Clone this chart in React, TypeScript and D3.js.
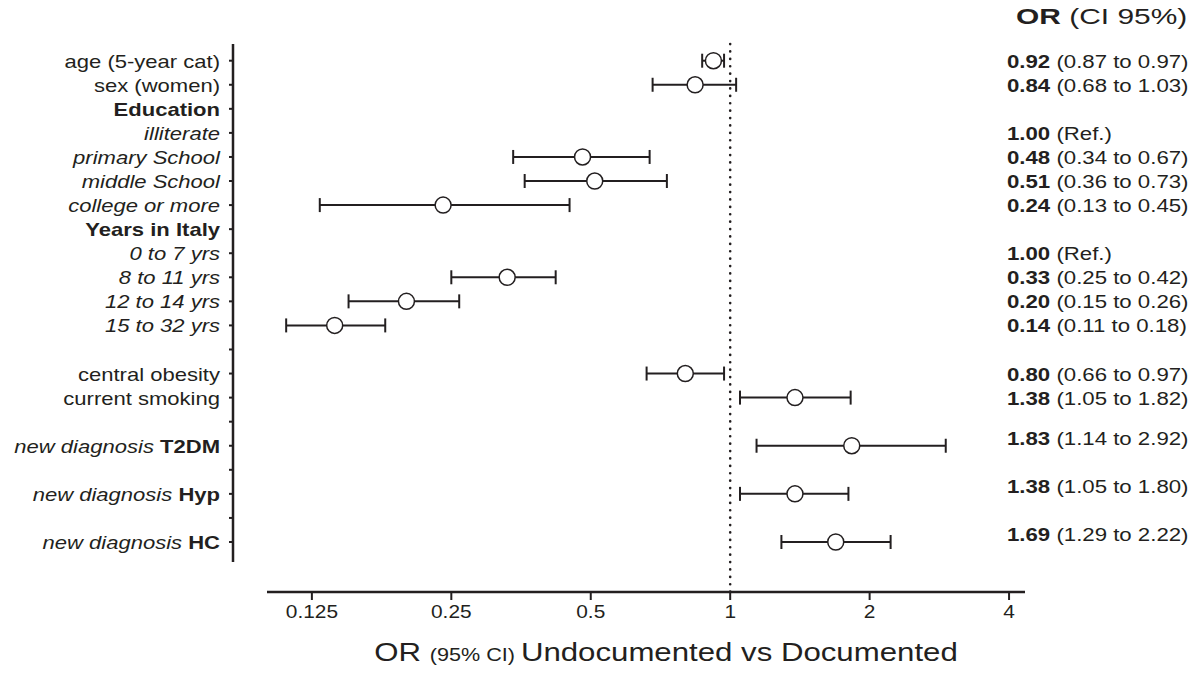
import React from "react";
import * as d3 from "d3";

// ---- data ----
const rowLabels: string[][] = [
  ["age (5-year cat)"], ["sex (women)"], ["Education"], ["illiterate"], ["primary School"],
  ["middle School"], ["college or more"], ["Years in Italy"], ["0 to 7 yrs"], ["8 to 11 yrs"],
  ["12 to 14 yrs"], ["15 to 32 yrs"], [""], ["central obesity"], ["current smoking"], [""],
  ["new diagnosis ", "T2DM"], [""], ["new diagnosis ", "Hyp"], [""], ["new diagnosis ", "HC"],
];
const rowStyles: string[] = [
  "normal", "normal", "bold", "italic", "italic", "italic", "italic", "bold", "italic", "italic",
  "italic", "italic", "normal", "normal", "normal", "normal", "mixed", "normal", "mixed", "normal", "mixed",
];
const orValues: (number | null)[] = [0.92, 0.84, null, 1.0, 0.48, 0.51, 0.24, null, 1.0, 0.33, 0.2, 0.14, null, 0.8, 1.38, null, 1.83, null, 1.38, null, 1.69];
const ciLower: (number | null)[] = [0.87, 0.68, null, null, 0.34, 0.36, 0.13, null, null, 0.25, 0.15, 0.11, null, 0.66, 1.05, null, 1.14, null, 1.05, null, 1.29];
const ciUpper: (number | null)[] = [0.97, 1.03, null, null, 0.67, 0.73, 0.45, null, null, 0.42, 0.26, 0.18, null, 0.97, 1.82, null, 2.92, null, 1.8, null, 2.22];
const isReference: boolean[] = [false, false, false, true, false, false, false, false, true, false, false, false, false, false, false, false, false, false, false, false, false];
const xTickValues = [0.125, 0.25, 0.5, 1, 2, 4];
const xTickLabels = ["0.125", "0.25", "0.5", "1", "2", "4"];

const fmt = (v: number) => v.toFixed(2);

export default function App() {
  const W = 1197, H = 674;
  const INK = "#231f20";
  const FONT = "'Liberation Sans', Arial, Helvetica, sans-serif";
  const SX = 1.16;
  const FS = 19;

  const x = d3.scaleLog().base(2).domain([0.1, 4.33]).range([267, 1025]);
  const y = d3.scaleLinear().domain([0, rowLabels.length - 1]).range([60.7, 542]);
  const axisY = 592;
  const yAxisX = 233;
  const raisedRows = new Set([16, 18, 20]);

  const T = (props: { x: number; y: number; anchor?: string; size?: number; sx?: number; children: React.ReactNode; weight?: string; italic?: boolean }) => (
    <text
      transform={`translate(${props.x},${props.y}) scale(${props.sx || SX},1)`}
      textAnchor={props.anchor || "start"}
      fontSize={props.size || FS}
      fontWeight={props.weight || "normal"}
      fontStyle={props.italic ? "italic" : "normal"}
      fontFamily={FONT}
      fill={INK}
    >
      {props.children}
    </text>
  );

  return (
    <svg width={W} height={H} style={{ position: "absolute", left: 0, top: 0, background: "#fff" }}>
      {/* y axis */}
      <line x1={yAxisX} x2={yAxisX} y1={44} y2={562} stroke={INK} strokeWidth={2.5} />
      {rowLabels.map((_, i) => (
        <line key={"yt" + i} x1={yAxisX - 4} x2={yAxisX} y1={y(i)} y2={y(i)} stroke={INK} strokeWidth={2} />
      ))}
      {/* row labels */}
      {rowLabels.map((parts, i) => {
        const st = rowStyles[i];
        if (!parts[0]) return null;
        if (st === "mixed") {
          return (
            <T key={"rl" + i} x={220} y={y(i) + 7} anchor="end">
              <tspan fontStyle="italic">{parts[0]}</tspan>
              <tspan fontWeight="bold">{parts[1]}</tspan>
            </T>
          );
        }
        return (
          <T key={"rl" + i} x={220} y={y(i) + 7} anchor="end" weight={st === "bold" ? "bold" : "normal"} italic={st === "italic"}>
            {parts[0]}
          </T>
        );
      })}

      {/* reference line */}
      <line x1={x(1)} x2={x(1)} y1={44} y2={axisY} stroke={INK} strokeWidth={2.6} strokeDasharray="0.1 7.3" strokeLinecap="round" />

      {/* x axis */}
      <line x1={x.range()[0]} x2={x.range()[1]} y1={axisY} y2={axisY} stroke={INK} strokeWidth={2.5} />
      {xTickValues.map((v, i) => (
        <g key={"xt" + i}>
          <line x1={x(v)} x2={x(v)} y1={axisY} y2={axisY + 8} stroke={INK} strokeWidth={2} />
          <T x={x(v)} y={axisY + 26} anchor="middle" size={18}>{xTickLabels[i]}</T>
        </g>
      ))}
      <T x={666} y={661} anchor="middle" size={26} sx={1.2}>
        <tspan>OR </tspan>
        <tspan fontSize={18}>(95% CI) </tspan>
        <tspan>Undocumented vs Documented</tspan>
      </T>

      {/* error bars and points */}
      {orValues.map((v, i) => {
        if (v == null || isReference[i]) return null;
        const lo = ciLower[i] as number, hi = ciUpper[i] as number;
        const yy = y(i);
        return (
          <g key={"pt" + i}>
            <line x1={x(lo)} x2={x(hi)} y1={yy} y2={yy} stroke={INK} strokeWidth={2} />
            <line x1={x(lo)} x2={x(lo)} y1={yy - 7} y2={yy + 7} stroke={INK} strokeWidth={2} />
            <line x1={x(hi)} x2={x(hi)} y1={yy - 7} y2={yy + 7} stroke={INK} strokeWidth={2} />
            <circle cx={x(v)} cy={yy} r={8} fill="#fff" stroke={INK} strokeWidth={1.5} />
          </g>
        );
      })}

      {/* right column */}
      <T x={1016} y={24} size={22.5} sx={1.33}>
        <tspan fontWeight="bold">OR</tspan>
        <tspan fontWeight="normal"> (CI 95%)</tspan>
      </T>
      {orValues.map((v, i) => {
        if (v == null) return null;
        const yy = y(i) + 7 - (raisedRows.has(i) ? 8 : 0);
        return (
          <T key={"rt" + i} x={1007} y={yy} sx={1.17}>
            <tspan fontWeight="bold">{fmt(v)}</tspan>
            <tspan>{isReference[i] ? " (Ref.)" : ` (${fmt(ciLower[i] as number)} to ${fmt(ciUpper[i] as number)})`}</tspan>
          </T>
        );
      })}
    </svg>
  );
}
